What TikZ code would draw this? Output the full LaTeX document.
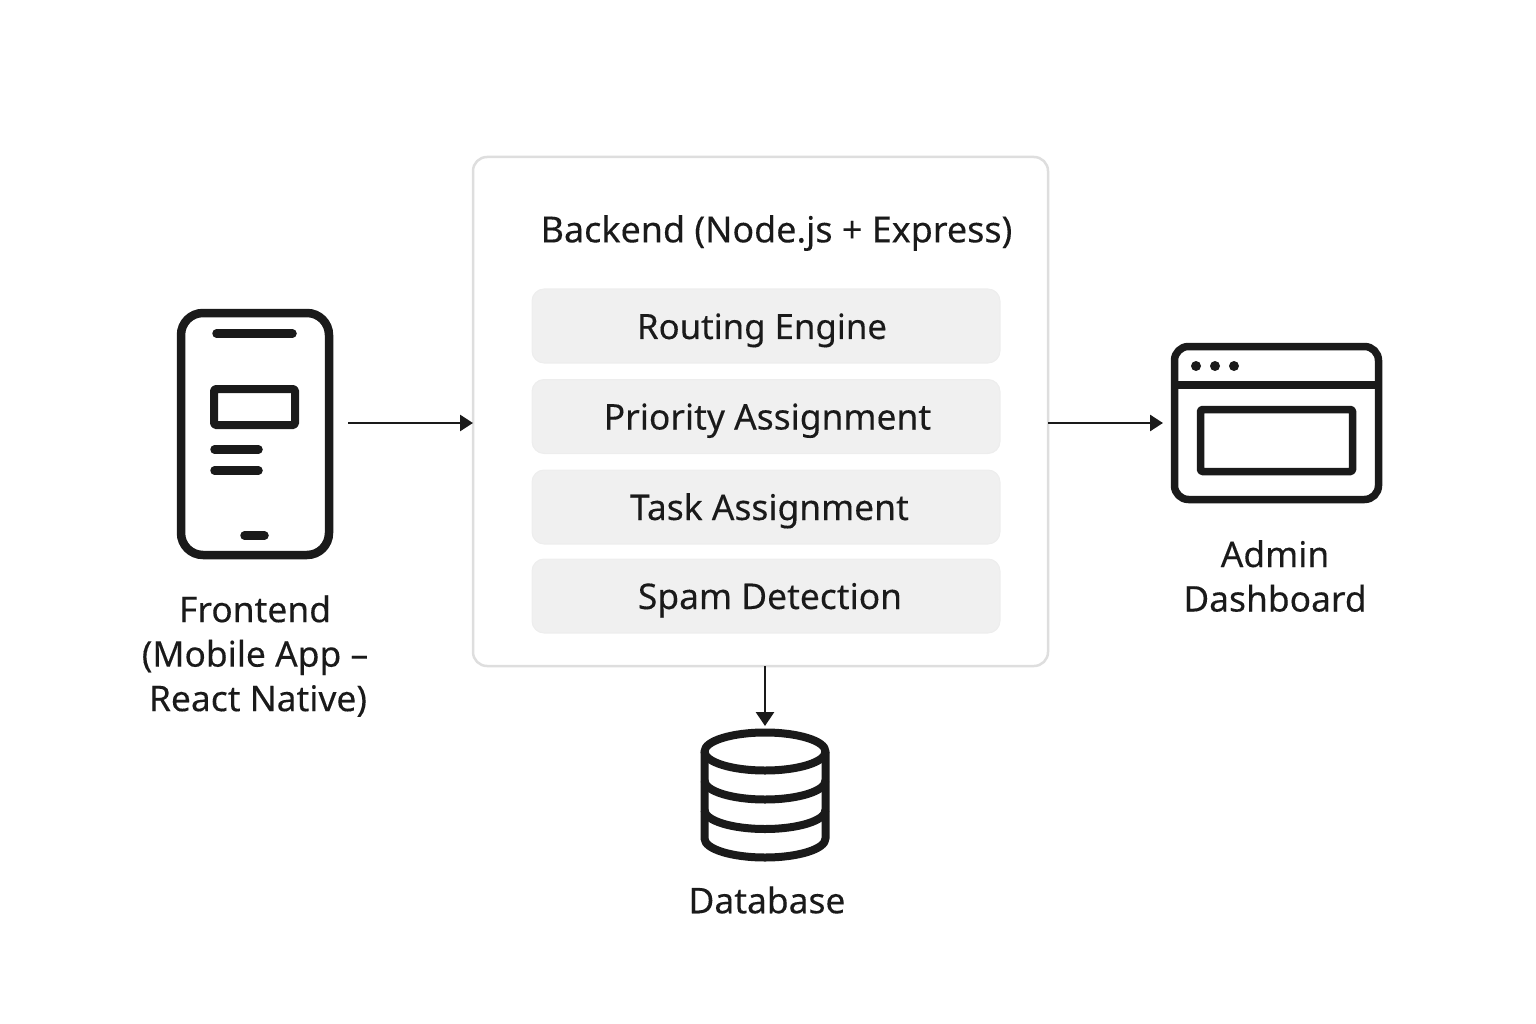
\documentclass[tikz,border=0pt]{standalone}
\usepackage{fontspec}
\setmainfont[FakeBold=0.2]{Noto Sans}
\usetikzlibrary{arrows.meta,shapes.geometric}
\definecolor{ink}{HTML}{1A1A1A}
\definecolor{panelline}{HTML}{DEDEDE}
\definecolor{rowfill}{HTML}{F0F0F0}
\definecolor{rowline}{HTML}{EDEDED}
\newcommand{\rowtext}[3]{\raisebox{#1}[0pt][0pt]{\hspace*{#2}#3}}
\tikzset{
  base/.style={inner sep=0pt,outer sep=0pt},
  label/.style={base,text=ink,align=center,font=\fontsize{35.4}{44.5}\selectfont},
  panel/.style={base,draw=panelline,line width=2.5pt,rounded corners=14pt,minimum width=575pt,minimum height=509pt},
  rowbox/.style={base,draw=rowline,line width=1pt,fill=rowfill,rounded corners=12pt,minimum width=468pt,minimum height=74pt,text=ink,font=\fontsize{35.4}{44.5}\selectfont},
  icon/.style={draw=ink,line width=8pt,line join=round},
  bar/.style={draw=ink,line width=8.5pt,line cap=round},
  flow/.style={draw=ink,line width=2.8pt,-{Triangle[length=13pt,width=16pt]}},
}
\begin{document}
\begin{tikzpicture}[x=1pt,y=-1pt]
\useasboundingbox (0,0) rectangle (1536,1024);
% backend
\node[panel] (backend) at (760.5,411.5) {};
\node[label,font=\fontsize{35.9}{44.5}\selectfont] (title) at (776.5,233) {Backend (Node.js + Express)};
\node[rowbox,font=\fontsize{34.8}{44.5}\selectfont] (r1) at (766,326) {\rowtext{-13pt}{-8pt}{Routing Engine}};
\node[rowbox] (r2) at (766,416.5) {\rowtext{-13pt}{3pt}{Priority Assignment}};
\node[rowbox] (r3) at (766,507) {\rowtext{-13pt}{7pt}{Task Assignment}};
\node[rowbox] (r4) at (766,596) {\rowtext{-13pt}{8pt}{Spam Detection}};
% phone
\node[base,icon,line width=8.5pt,rounded corners=22pt,minimum width=148pt,minimum height=242pt] (phone) at (255,434) {};
\draw[bar] (216.5,333.5) -- (292.5,333.5);
\node[base,icon,rounded corners=1.5pt,minimum width=81pt,minimum height=36pt] (phonecard) at (254.5,407) {};
\draw[bar] (214.5,449.5) -- (258.5,449.5);
\draw[bar] (214.5,470.5) -- (258.5,470.5);
\draw[bar] (244.5,535.5) -- (264.5,535.5);
\node[label] (frontend) at (255,656) {Frontend\\(Mobile App –\\\hspace*{6pt}React Native)};
% window
\node[base,icon,line width=7.5pt,rounded corners=14pt,minimum width=204pt,minimum height=153pt] (window) at (1276.5,423) {};
\draw[icon,line width=7.5pt] (window.west |- 0,385) -- (window.east |- 0,385);
\foreach \dx in {1196,1215,1234} \fill[ink] (\dx,366) circle[radius=5pt];
\node[base,icon,line width=7.5pt,rounded corners=1.5pt,minimum width=152pt,minimum height=62pt] (winpane) at (1276.5,440.5) {};
\node[label] (admin) at (1275,576) {Admin\\Dashboard};
% database
\node[base,icon,ellipse,minimum width=121pt,minimum height=38pt] (dbcap) at (765,751.5) {};
\draw[icon] (dbcap.west) -- (704.5,838.5) arc[start angle=180,end angle=0,x radius=60.5,y radius=19] -- (dbcap.east);
\draw[icon] (704.5,780.5) arc[start angle=180,end angle=0,x radius=60.5,y radius=19];
\draw[icon] (704.5,810) arc[start angle=180,end angle=0,x radius=60.5,y radius=19];
\node[label] (database) at (767,900) {Database};
% connectors
\draw[flow,shorten <=19pt] (phone.east |- window.west) -- (backend.west |- window.west);
\draw[flow,shorten >=11.5pt] (backend.east |- window.west) -- (window.west);
\draw[flow,-{Triangle[length=14pt,width=18pt]},shorten >=6.5pt] (backend.south -| dbcap.north) -- (dbcap.north);
\end{tikzpicture}
\end{document}
